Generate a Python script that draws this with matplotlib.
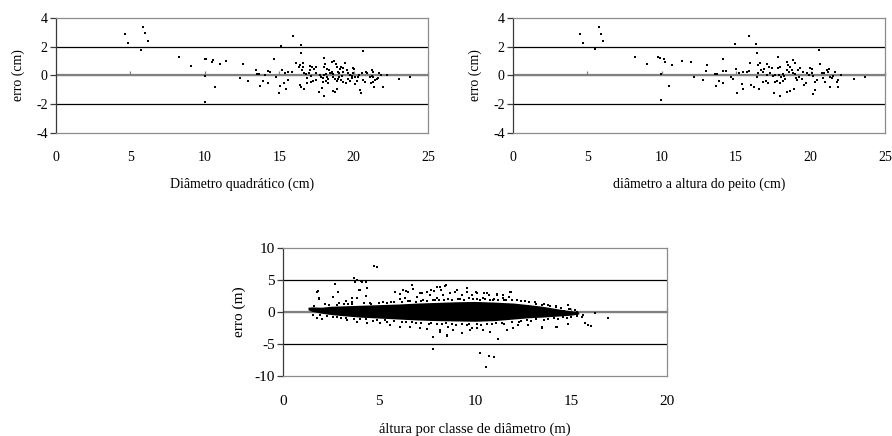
import matplotlib.pyplot as plt
from matplotlib.ticker import NullFormatter

plt.rcParams['font.family'] = ['Liberation Serif', 'DejaVu Serif']
plt.rcParams['axes.unicode_minus'] = False

# erro x diametro quadratico
dq_x = [4.64, 4.84, 5.87, 5.98, 6.18, 5.69, 8.27, 9.09, 10.0, 10.1, 10.04, 9.99, 10.5, 10.57,
        10.7, 11.04, 11.45, 12.39, 12.57, 12.92, 13.44, 13.53, 13.66, 13.73, 13.93, 14.04, 14.27,
        14.36, 14.27, 14.67, 14.78, 15.01, 15.05, 15.12, 15.17, 15.34, 15.43, 15.41, 15.57, 15.61,
        15.86, 15.93, 16.13, 16.33, 16.42, 16.44, 16.44, 16.4, 16.46, 16.53, 16.62, 16.69, 16.62,
        16.69, 16.8, 16.9, 16.98, 17.07, 17.12, 16.89, 17.07, 17.23, 17.34, 17.12, 17.29, 17.47,
        17.47, 17.47, 17.65, 17.74, 17.81, 17.92, 18.03, 18.15, 18.19, 17.88, 17.99, 18.03, 18.1,
        18.19, 18.03, 17.97, 18.15, 18.26, 18.3, 18.37, 18.41, 18.48, 18.55, 18.6, 18.64, 18.55,
        18.7, 18.82, 18.86, 18.64, 18.75, 18.9, 18.77, 18.86, 18.97, 19.04, 19.13, 18.93, 19.02,
        19.09, 19.2, 19.27, 19.13, 19.31, 19.42, 19.54, 19.31, 19.49, 19.64, 19.76, 19.87, 19.64,
        19.76, 19.87, 19.98, 20.09, 19.94, 20.05, 20.09, 20.2, 20.43, 20.5, 20.32, 20.38, 20.54,
        20.65, 20.65, 20.77, 20.83, 20.88, 21.1, 21.22, 21.33, 21.22, 21.33, 21.15, 21.28, 21.44,
        21.37, 21.55, 21.66, 21.73, 21.84, 21.95, 22.22, 23.07, 23.79]
dq_err = [2.86, 2.24, 3.35, 2.93, 2.40, 1.77, 1.26, 0.68, 1.12, 1.15, -0.02, -1.84, 0.92, 1.08,
          -0.77, 0.8, 0.98, -0.17, 0.80, -0.36, 0.38, 0.1, 0.08, -0.71, -0.38, 0.03, 0.31,
          0.26, -0.54, 1.15, -0.13, -1.19, -0.73, 2.05, 0.38, -0.54, -0.96, 0.15, 0.22, -0.31,
          0.26, 2.77, 0.89, 0.61, 0.71, 2.12, 1.58, -0.68, -0.78, 0.38, 0.61, 0.15, 0.89,
          -0.94, 0.1, -0.15, 0.19, 0.38, -0.01, -0.54, 0.68, 0.57, 0.43, -0.43, -0.36, -0.29,
          0.61, 0.19, -1.12, 0.03, -0.13, -0.17, 0.01, 0.1, -0.08, -0.89, 1.24, 0.61, 0.78,
          0.43, -1.42, -0.43, -0.36, -0.27, -0.54, 0.38, 0.19, 0.15, 0.26, 0.08, -0.08, 0.96,
          1.03, 0.78, 0.61, -1.05, -1.12, -0.96, -0.27, -0.38, -0.22, -0.08, -0.31, 0.26, 0.15,
          0.45, -0.04, 0.22, 0.61, 0.5, 0.85, 0.38, -0.43, -0.54, -0.27, -0.36, -0.2, 0.15,
          0.03, -0.04, 0.15, -0.08, 0.54, 0.43, -0.59, -0.38, -1.0, -1.24, -0.08, 0.03, 0.15,
          1.72, -0.31, -0.43, 0.26, 0.15, -0.08, -0.04, -0.13, 0.38, 0.26, -0.5, -0.45, -0.31,
          -0.78, -0.27, -0.2, 0.15, 0.03, -0.78, 0.03, -0.27, -0.08]

# erro x diametro a altura do peito
dap_x = [4.5, 4.73, 5.76, 5.89, 6.05, 5.51, 8.22, 8.98, 9.72, 9.88, 9.97, 9.97, 10.17, 10.24,
         10.46, 10.7, 11.38, 11.94, 12.17, 12.79, 13.02, 12.97, 13.58, 13.71, 13.62, 13.86,
         14.09, 14.09, 14.14, 14.31, 14.62, 14.76, 14.9, 14.99, 15.06, 15.18, 15.38, 15.45,
         15.49, 15.84, 15.88, 15.21, 15.44, 15.7, 15.93, 15.97, 16.2, 16.33, 16.42, 16.38,
         16.49, 16.49, 16.6, 16.53, 16.65, 16.78, 16.87, 16.78, 17.0, 17.16, 17.05, 17.22,
         17.39, 17.05, 17.27, 17.45, 17.61, 17.56, 17.61, 17.72, 17.81, 17.83, 17.94, 17.94,
         17.9, 17.99, 18.12, 18.21, 17.94, 18.12, 18.28, 18.39, 18.5, 18.62, 18.43, 18.57,
         18.73, 18.84, 18.95, 18.43, 18.62, 18.88, 18.84, 18.95, 19.02, 19.11, 19.24, 19.4,
         19.17, 19.29, 19.47, 19.56, 19.69, 19.74, 19.91, 20.07, 20.18, 19.96, 20.07, 20.14,
         20.3, 20.3, 20.41, 20.54, 20.63, 20.74, 20.9, 20.85, 20.97, 21.08, 21.19, 21.26, 21.3,
         21.42, 21.53, 21.3, 21.64, 21.75, 21.86, 21.86, 22.04, 22.92, 23.66]
dap_err = [2.86, 2.24, 3.35, 2.88, 2.4, 1.82, 1.26, 0.8, 1.31, 1.19, 0.1, -1.68, 1.12, 0.96,
           -0.73, 0.75, 1.0, 0.96, -0.13, -0.31, 0.71, 0.31, 0.1, 0.1, -0.71, -0.36,
           -0.5, 1.17, 0.33, 0.29, -0.08, -0.22, 2.17, 0.45, -1.24, 0.15, -0.59, -0.96,
           0.26, 2.77, 0.31, 0.15, 0.22, 0.26, 0.89, -0.68, -0.78, 2.19, 1.58, -0.13,
           0.15, 0.73, 0.85, -0.94, 0.38, 0.26, 0.43, -0.43, -0.38, -0.5, 0.8, 0.61,
           0.5, 0.03, 0.15, -0.04, 0.03, -1.19, -0.43, -0.36, 1.26, 0.54, 0.61, -1.42,
           0.03, -0.08, 0.1, -0.04, -0.5, -0.38, -0.27, 0.96, 0.73, 0.61, 0.38, 0.26,
           0.38, 0.19, 0.08, -1.12, -1.05, -0.96, 1.08, 0.85, -0.2, -0.31, -0.08, -0.27,
           0.38, 0.5, 0.26, -0.66, -0.5, 0.15, 0.03, 0.19, -0.04, 0.54, 0.43, -1.28,
           -0.99, -0.43, -0.31, 1.77, 0.78, 0.15, 0.19, -0.2, -0.43, 0.38, 0.26, 0.43, -0.08,
           -0.2, -0.04, -0.78, 0.26, -0.43, -0.31, -0.78, 0.03, -0.27, -0.08]

# altura por classe de diametro: nucleo denso da nuvem de pontos
band_x = [1.3, 1.5, 2.0, 2.5, 3.0, 4.0, 5.0, 6.0, 7.0, 8.0, 9.0, 10.0, 11.0, 12.0, 12.8,
          13.5, 14.0, 14.5, 15.0, 15.4]
band_hi = [0.75, 0.8, 0.75, 0.9, 0.95, 1.05, 1.15, 1.25, 1.4, 1.5, 1.6, 1.65, 1.55, 1.4, 1.15,
           0.9, 0.65, 0.4, 0.2, 0.0]
band_lo = [0.35, 0.1, -0.2, -0.4, -0.55, -0.8, -0.95, -1.1, -1.25, -1.35, -1.4, -1.45, -1.35,
           -1.1, -0.9, -0.8, -0.7, -0.6, -0.5, -0.3]

# pontos dispersos fora do nucleo
h_x = [4.72, 4.88, 1.75, 1.84, 1.89, 1.86, 2.69, 2.85, 2.62, 3.7, 3.77, 3.84, 4.05, 4.1, 4.32,
       4.0, 4.34, 4.39, 3.87, 3.58, 3.26, 4.53, 3.97, 3.58, 5.83, 6.09, 6.27, 6.53, 6.74, 6.35,
       6.09, 6.96, 7.22, 7.48, 6.41, 6.79, 7.14, 7.66, 7.69, 7.86, 8.0, 8.18, 8.47, 8.0, 8.35,
       8.7, 8.96, 9.31, 9.57, 9.83, 10.09, 8.21, 8.44, 9.57, 9.05, 10.61, 11.82, 11.13, 11.47,
       11.86, 11.16, 10.73, 10.05, 10.49, 11.79, 11.47, 10.95, 10.26, 13.82, 14.83, 14.95,
       14.65, 15.12, 15.3, 15.56, 15.73, 15.9, 16.02, 16.25, 16.94, 15.3, 15.64,
       7.8, 7.83, 8.53, 8.18, 8.87, 9.31, 9.83, 8.53, 8.61, 8.18, 5.05, 5.57, 6.09, 6.61, 7.14,
       7.48, 3.32, 3.84, 4.36, 1.58, 1.76, 2.02, 10.26, 10.75, 11.0, 10.56, 11.21, 13.47, 14.2,
       14.86, 12.78, 12.26, 11.65, 12.0, 10.78, 10.43, 10.09, 9.74, 13.47, 14.26,
       2.2, 2.9, 3.4, 5.2, 5.6, 6.6, 7.3, 7.9, 8.6, 9.2, 9.9, 10.4, 11.0, 11.6, 12.2, 12.6,
       13.1, 13.6, 14.2, 2.6, 3.0, 4.0, 4.7, 5.4, 6.2, 6.9, 7.6, 8.3, 9.0, 9.6, 10.3, 10.9,
       11.5, 12.3, 12.9, 13.6, 14.3, 14.8,
       1.6, 2.4, 2.8, 3.2, 3.6, 4.2, 4.6, 5.0, 5.4, 5.8, 6.2, 6.5, 6.9, 7.2, 7.5, 7.8, 8.1,
       8.4, 8.8, 9.1, 9.4, 9.7, 10.1, 10.5, 10.8, 11.2, 11.5, 11.9, 12.4, 12.8, 13.2, 13.5,
       13.9, 14.2, 14.5, 14.9, 15.2,
       1.9, 2.3, 2.8, 3.3, 3.7, 4.3, 4.9, 5.3, 5.8, 6.4, 6.7, 7.2, 7.7, 8.0, 8.5, 8.8, 9.3,
       9.7, 10.1, 10.6, 11.1, 11.4, 11.9, 12.4, 12.7, 13.2, 13.8, 14.1, 14.6, 15.0, 15.3]
h_err = [7.23, 7.08, 3.17, 3.28, 2.14, 2.08, 4.38, 3.07, 2.4, 5.37, 4.74, 5.0, 4.9, 4.74, 4.69,
         3.44, 2.55, 3.7, 2.14, 1.61, 1.72, 1.45, 3.44, 2.14, 3.08, 2.81, 3.44, 3.08, 4.22, 2.14,
         1.98, 2.4, 2.92, 3.17, 3.33, 3.54, 3.02, 2.66, 3.44, 3.33, 3.96, 3.85, 4.22, 2.14, 2.66,
         2.92, 3.17, 2.66, 3.17, 2.66, 2.92, 3.44, 4.06, 3.7, 3.44, 2.92, 3.17, 2.66, 2.66,
         3.17, 2.81, 2.66, 3.17, 2.92, 2.4, 2.14, 1.88, 1.88, 1.1, 1.1, 0.42,
         0.16, -0.2, -0.47, -0.73, -1.77, -2.03, -2.19, -0.2, -0.99, 0.05, -0.47,
         -3.85, -5.83, -3.59, -3.07, -2.81, -3.23, -2.55, -3.75, -2.29, -2.81, -1.77, -2.03,
         -2.29, -2.4, -2.55, -2.7, -1.25, -1.51, -1.67, -0.47, -0.99, -1.15, -6.46, -6.88, -7.08,
         -8.65, -4.27, -2.55, -2.29, -1.88, -2.03, -2.03, -2.81, -2.55, -3.07, -2.81, -2.55,
         -2.81, -2.29, -2.29,
         1.2, 1.4, 1.3, 1.6, 1.5, 1.7, 1.8, 1.9, 2.0, 2.0, 2.1, 2.2, 2.1, 1.9, 1.9, 1.7,
         1.5, 1.3, 0.9, -0.8, -0.95, -1.15, -1.35, -1.5, -1.6, -1.75, -1.85, -1.9, -2.0, -2.0,
         -2.0, -1.9, -1.8, -1.6, -1.4, -1.2, -1.1, -0.9,
         0.95, 1.05, 1.15, 1.2, 1.25, 1.35, 1.3, 1.45, 1.35, 1.55, 1.5, 1.65, 1.6, 1.75, 1.7,
         1.85, 1.8, 1.95, 1.9, 2.05, 1.95, 2.2, 2.05, 2.1, 1.95, 1.95, 1.85, 1.8, 1.65, 1.5,
         1.3, 1.15, 0.95, 0.75, 0.6, 0.4, 0.25,
         -0.45, -0.65, -0.75, -0.9, -1.05, -1.1, -1.25, -1.3, -1.45, -1.5, -1.55, -1.7, -1.65,
         -1.8, -1.75, -1.9, -1.85, -1.85, -1.9, -1.85, -1.75, -1.7, -1.5, -1.45, -1.25, -1.15,
         -1.05, -0.95, -0.85, -0.75, -0.6]


def estilo(ax, xmax, ylim, ystep, fs, tickpad):
    xt = list(range(0, xmax + 1, 5))
    ax.set_xlim(0, xmax)
    ax.set_ylim(-ylim, ylim)
    ax.set_yticks(range(-ylim, ylim + 1, ystep))
    ax.set_xticks(xt)
    for s in ['top', 'right', 'bottom']:
        ax.spines[s].set_color('#8c8c8c')
        ax.spines[s].set_linewidth(0.9)
    ax.spines['left'].set_color('#3a3a3a')
    ax.spines['left'].set_linewidth(0.9)
    ax.tick_params(axis='y', direction='out', length=4, width=0.9, color='#3a3a3a',
                   labelsize=fs, pad=2)
    ax.tick_params(axis='x', length=0, labelsize=fs, pad=tickpad)
    for v in (-ystep, ystep):
        ax.axhline(v, color='black', lw=0.9, zorder=1)
    ax.axhline(0, color='#808080', lw=1.6, zorder=1)
    # marcas do eixo x sobre a linha do zero
    sec = ax.secondary_xaxis(0.5)
    sec.set_xticks(xt[1:])
    sec.xaxis.set_major_formatter(NullFormatter())
    sec.tick_params(direction='out', length=3, width=0.9, color='#808080')
    sec.spines['bottom'].set_visible(False)


fig = plt.figure(figsize=(8.92, 4.36), dpi=100)

ax1 = fig.add_axes([0.0628, 0.695, 0.417, 0.2638])
ax1.plot(dq_x, dq_err, 's', color='black', ms=1.5, mew=0, zorder=3)
estilo(ax1, 25, 4, 2, 10, 13)
ax1.set_xlabel('Diâmetro quadrático (cm)', fontsize=10, labelpad=10)
ax1.set_ylabel('erro (cm)', fontsize=10, labelpad=8)

ax2 = fig.add_axes([0.5751, 0.695, 0.417, 0.2638])
ax2.plot(dap_x, dap_err, 's', color='black', ms=1.5, mew=0, zorder=3)
estilo(ax2, 25, 4, 2, 10, 13)
ax2.set_xlabel('diâmetro a altura do peito (cm)', fontsize=10, labelpad=10)
ax2.set_ylabel('erro (cm)', fontsize=10, labelpad=8)

ax3 = fig.add_axes([0.3173, 0.1376, 0.4305, 0.2936])
ax3.fill_between(band_x, band_lo, band_hi, color='black', lw=0, zorder=3)
ax3.plot(h_x, h_err, 's', color='black', ms=1.6, mew=0, zorder=3)
estilo(ax3, 20, 10, 5, 11, 14)
ax3.set_xlabel('áltura por classe de diâmetro (m)', fontsize=10.5, labelpad=10)
ax3.set_ylabel('erro (m)', fontsize=11, labelpad=6)

fig.savefig('out.png', dpi=100)
